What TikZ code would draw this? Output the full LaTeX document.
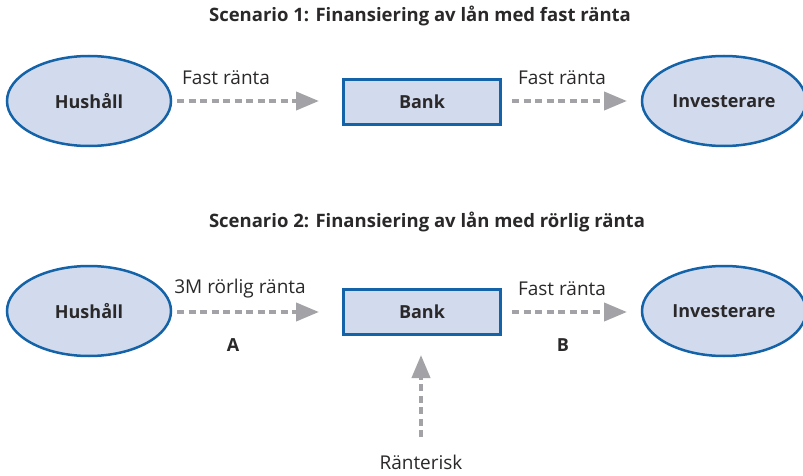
\documentclass[tikz,border=0pt]{standalone}
\usepackage{fontspec}
\setmainfont{Open Sans}
\usepackage{tikz}
\usetikzlibrary{shapes.geometric,arrows.meta}
\definecolor{kantblaa}{HTML}{1462A8}
\definecolor{fyllblaa}{HTML}{D2DBEE}
\definecolor{pilgraa}{HTML}{A3A3A7}
\definecolor{textgraa}{HTML}{2A2829}

\begin{document}
\begin{tikzpicture}[x=1pt,y=-1pt,text=textgraa,
  party/.style={ellipse,draw=kantblaa,fill=fyllblaa,line width=2.5pt,minimum width=164pt,minimum height=90pt,inner sep=0pt,font=\fontsize{18}{20}\selectfont\bfseries},
  bankbox/.style={rectangle,draw=kantblaa,fill=fyllblaa,line width=2.5pt,minimum width=157pt,minimum height=45pt,inner sep=0pt,font=\fontsize{18}{20}\selectfont\bfseries},
  flow/.style={draw=pilgraa,line width=4pt,dash pattern=on 7pt off 4.5pt,-{Triangle[length=23pt,width=18pt]}},
  lbl/.style={font=\fontsize{19}{22}\selectfont},
  tag/.style={font=\fontsize{18}{20}\selectfont\bfseries},
  rubrik/.style={font=\fontsize{18.5}{21}\selectfont\bfseries}]
\useasboundingbox (0,0) rectangle (803,476);
% scenario 1
\node[rubrik] (rub1) at (420,16) {Scenario 1: Finansiering av lån med fast ränta};
\node[party] (hus1) at (89,101) {Hushåll};
\node[bankbox] (bank1) at (422,102) {Bank};
\node[party] (inv1) at (724,101) {Investerare};
\coordinate (a1s) at (177,101);
\coordinate (a1e) at (319,101);
\coordinate (b1s) at (512,101);
\coordinate (b1e) at (627,101);
\draw[flow] (a1s) -- (a1e);
\draw[flow] (b1s) -- (b1e);
\node[lbl] (lbl1) at (226,78) {Fast ränta};
\node[lbl] (lbl2) at (562,78) {Fast ränta};
% scenario 2
\node[rubrik] (rub2) at (427,222) {Scenario 2: Finansiering av lån med rörlig ränta};
\node[party] (hus2) at (89,311) {Hushåll};
\node[bankbox] (bank2) at (422,312) {Bank};
\node[party] (inv2) at (724,311) {Investerare};
\coordinate (a2s) at (177,312);
\coordinate (a2e) at (319,312);
\coordinate (b2s) at (512,312);
\coordinate (b2e) at (627,312);
\draw[flow] (a2s) -- (a2e);
\draw[flow] (b2s) -- (b2e);
\node[lbl] (lbl3) at (240,289) {3M rörlig ränta};
\node[lbl] (lbl4) at (562,289) {Fast ränta};
\node[tag] (tagA) at (233,345) {A};
\node[tag] (tagB) at (563,345) {B};
\node[lbl] (risk) at (421,462) {Ränterisk};
\coordinate (rs) at (421,437);
\coordinate (re) at (421,355);
\draw[flow] (rs) -- (re);
\end{tikzpicture}
\end{document}
